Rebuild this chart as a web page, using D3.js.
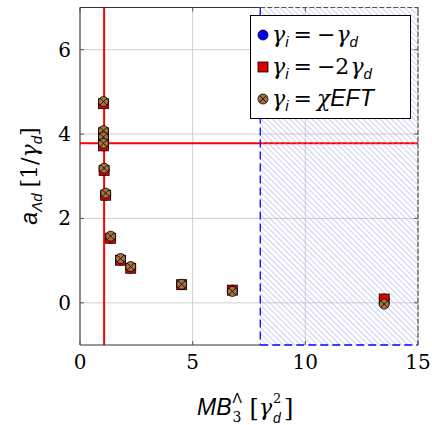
<!DOCTYPE html>
<html><head><meta charset="utf-8">
<script src="https://cdn.jsdelivr.net/npm/d3@7"></script>
<style>body{margin:0;background:#fff}svg{display:block}</style>
</head><body>
<script>
const xVals  = [1.04, 1.04, 1.04, 1.04, 1.07, 1.14, 1.36, 1.80, 2.25, 4.51, 6.76, 13.5];
const chiY   = [4.77, 4.08, 3.93, 3.78, 3.19, 2.60, 1.58, 1.05, 0.86, 0.44, 0.27, -0.03];
const sqY    = [4.72, 4.03, 3.88, 3.72, 3.14, 2.55, 1.53, 1.01, 0.82, 0.43, 0.30, 0.09];
const blueY  = [4.72, 4.03, 3.88, 3.72, 3.14, 2.55, 1.53, 1.01, 0.82, 0.43, 0.30, 0.09];
const xTicks = [0, 5, 10, 15];
const yTicks = [0, 2, 4, 6];
const vLineX = 1.07;
const hLineY = 3.78;
const regionX = [8, 15];

const W = 432, H = 425;
const svg = d3.select("body").append("svg").attr("width", W).attr("height", H);
const x = d3.scaleLinear().domain([0, 15]).range([80, 418]);
const y = d3.scaleLinear().domain([-1, 7]).range([345, 7.5]);
const serif = "DejaVu Serif";
const serifI = "DejaVu Serif";
const sans = "Liberation Sans";

const defs = svg.append("defs");
const pat = defs.append("pattern").attr("id", "hatch").attr("patternUnits", "userSpaceOnUse")
  .attr("width", 4).attr("height", 10).attr("patternTransform", "rotate(-45)");
pat.append("line").attr("x1", 0).attr("y1", 0).attr("x2", 0).attr("y2", 10)
  .attr("stroke", "#9d9df0").attr("stroke-width", 1);

// grid
const g = svg.append("g");
g.selectAll(".gx").data(xTicks).join("line")
  .attr("x1", d => x(d)).attr("x2", d => x(d)).attr("y1", y(-1)).attr("y2", y(7))
  .attr("stroke", "#cfcfcf").attr("stroke-width", 1);
g.selectAll(".gy").data(yTicks).join("line")
  .attr("x1", x(0)).attr("x2", x(15)).attr("y1", d => y(d)).attr("y2", d => y(d))
  .attr("stroke", "#cfcfcf").attr("stroke-width", 1);

// red lines
svg.append("line").attr("x1", x(vLineX)).attr("x2", x(vLineX)).attr("y1", y(-1)).attr("y2", y(7))
  .attr("stroke", "#ff0000").attr("stroke-width", 2);
svg.append("line").attr("x1", x(0)).attr("x2", x(15)).attr("y1", y(hLineY)).attr("y2", y(hLineY))
  .attr("stroke", "#ff0000").attr("stroke-width", 2);

// hatched region
svg.append("rect").attr("x", x(regionX[0])).attr("y", y(7)).attr("width", x(regionX[1]) - x(regionX[0]))
  .attr("height", y(-1) - y(7)).attr("fill", "url(#hatch)");
svg.append("line").attr("x1", x(regionX[0])).attr("x2", x(regionX[0])).attr("y1", y(7)).attr("y2", y(-1))
  .attr("stroke", "#0000ff").attr("stroke-width", 1.3).attr("stroke-dasharray", "8,4");
svg.append("line").attr("x1", x(regionX[0])).attr("x2", x(regionX[1])).attr("y1", y(-1)).attr("y2", y(-1))
  .attr("stroke", "#0000ff").attr("stroke-width", 1.3).attr("stroke-dasharray", "8,4");

// frame
const fr = svg.append("g").attr("fill", "none");
fr.append("path").attr("d", `M${x(regionX[0])},${y(-1)}H${x(0)}V${y(7)}H${x(regionX[0])}`)
  .attr("stroke", "#333").attr("stroke-width", 1);
fr.append("path").attr("d", `M${x(regionX[0])},${y(7)}H${x(15)}V${y(-1)}`)
  .attr("stroke", "#555").attr("stroke-width", 1.2).attr("stroke-dasharray", "5,2");
xTicks.forEach(t => {
  fr.append("line").attr("x1", x(t)).attr("x2", x(t)).attr("y1", y(-1)).attr("y2", y(-1) - 4).attr("stroke", "#555");
  fr.append("line").attr("x1", x(t)).attr("x2", x(t)).attr("y1", y(7)).attr("y2", y(7) + 4).attr("stroke", "#555");
});
yTicks.forEach(t => {
  fr.append("line").attr("x1", x(0)).attr("x2", x(0) + 4).attr("y1", y(t)).attr("y2", y(t)).attr("stroke", "#555");
  fr.append("line").attr("x1", x(15)).attr("x2", x(15) - 4).attr("y1", y(t)).attr("y2", y(t)).attr("stroke", "#555");
});

// markers
const R = 5;
function circ(sel, cx, cy) {
  sel.append("circle").attr("cx", cx).attr("cy", cy).attr("r", R).attr("fill", "#0000ff").attr("stroke", "#000").attr("stroke-width", 0.8);
}
function sq(sel, cx, cy) {
  sel.append("rect").attr("x", cx - R).attr("y", cy - R).attr("width", 2 * R).attr("height", 2 * R)
    .attr("fill", "#e00000").attr("stroke", "#000").attr("stroke-width", 0.8);
}
function otimes(sel, cx, cy) {
  sel.append("circle").attr("cx", cx).attr("cy", cy).attr("r", R).attr("fill", "#a8723f").attr("stroke", "#000").attr("stroke-width", 0.8);
  const k = R * 0.707;
  sel.append("path").attr("d", `M${cx - k},${cy - k}L${cx + k},${cy + k}M${cx - k},${cy + k}L${cx + k},${cy - k}`)
    .attr("stroke", "#000").attr("stroke-width", 0.8);
}
const mk = svg.append("g");
xVals.forEach((v, i) => circ(mk, x(v), y(blueY[i])));
xVals.forEach((v, i) => sq(mk, x(v), y(sqY[i])));
xVals.forEach((v, i) => otimes(mk, x(v), y(chiY[i])));

// tick labels
svg.selectAll(".xl").data(xTicks).join("text")
  .attr("x", d => x(d)).attr("y", 369).attr("text-anchor", "middle")
  .attr("font-family", serif).attr("font-size", 20).text(d => d);
svg.selectAll(".yl").data(yTicks).join("text")
  .attr("x", 71).attr("y", d => y(d) + 7).attr("text-anchor", "end")
  .attr("font-family", serif).attr("font-size", 20).text(d => d);

// x label built from separate pieces
function piece(txt, fam, size, italic, px, py) {
  const t = svg.append("text").attr("x", px).attr("y", py).attr("font-family", fam).attr("font-size", size)
    .attr("font-style", italic ? "italic" : "normal").text(txt);
  return t.node().getComputedTextLength();
}
let cx0 = 197; const base = 415;
cx0 += piece("MB", sans, 23, true, cx0, base);
piece("Λ", sans, 14, false, cx0 + 1, base - 12);
piece("3", serif, 14, false, cx0 + 1, base + 7);
cx0 += 18;
cx0 += piece("[", serif, 24, false, cx0, base + 1);
const gw = piece("γ", serifI, 22, true, cx0, base);
piece("2", serif, 13, false, cx0 + gw + 1, base - 12);
piece("d", sans, 14, true, cx0 + gw + 1, base + 8);
cx0 += gw + 12;
piece("]", serif, 24, false, cx0, base + 1);

// y label
const yl = svg.append("text").attr("transform", "translate(37,176) rotate(-90)").attr("text-anchor", "middle").attr("font-size", 22);
yl.append("tspan").attr("font-family", sans).attr("font-style", "italic").attr("font-size", 23).text("a");
yl.append("tspan").attr("font-family", sans).attr("font-style", "italic").attr("font-size", 15).attr("dy", 5).text("Λd");
yl.append("tspan").attr("font-family", serif).attr("dy", -5).attr("dx", 6).text("[1/");
yl.append("tspan").attr("font-family", serifI).attr("font-style", "italic").text("γ");
yl.append("tspan").attr("font-family", sans).attr("font-style", "italic").attr("font-size", 15).attr("dy", 5).text("d");
yl.append("tspan").attr("font-family", serif).attr("dy", -5).text("]");

// legend
const lg = svg.append("g");
lg.append("rect").attr("x", 250.5).attr("y", 15.5).attr("width", 160).attr("height", 103)
  .attr("fill", "#fff").attr("stroke", "#000").attr("stroke-width", 1);
const legY = [35, 67, 99];
circ(lg, 263, legY[0]);
sq(lg, 263, legY[1]);
otimes(lg, 263, legY[2]);
const legRhs = [["−", "γ", "d"], ["−2", "γ", "d"], [null, "χ", "EFT"]];
legY.forEach((ly, i) => {
  const t = lg.append("text").attr("x", 272).attr("y", ly + 7).attr("font-size", 22);
  t.append("tspan").attr("font-family", serifI).attr("font-style", "italic").text("γ");
  t.append("tspan").attr("font-family", sans).attr("font-style", "italic").attr("font-size", 15).attr("dy", 5).text("i");
  t.append("tspan").attr("font-family", serif).attr("font-size", 22).attr("dy", -5).attr("dx", 5).text("=");
  const r = legRhs[i];
  if (r[0]) t.append("tspan").attr("font-family", serif).attr("font-size", 22).attr("dx", 5).text(r[0]);
  t.append("tspan").attr("font-family", serifI).attr("font-style", "italic").attr("dx", r[0] ? 1 : 5).text(r[1]);
  if (i < 2) t.append("tspan").attr("font-family", sans).attr("font-style", "italic").attr("font-size", 15).attr("dy", 5).text(r[2]);
  else t.append("tspan").attr("font-family", sans).attr("font-style", "italic").attr("font-size", 23).text(r[2]);
});
</script>
</body></html>
